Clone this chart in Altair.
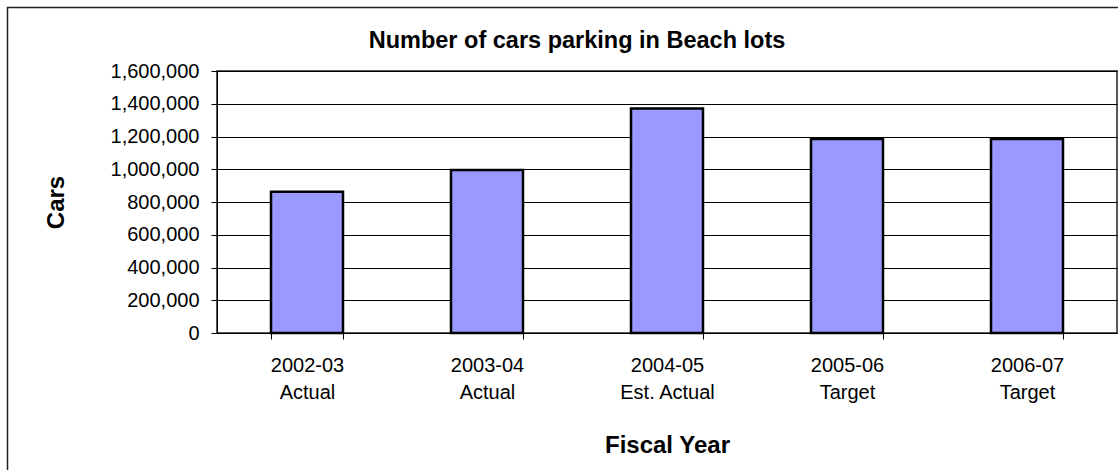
import altair as alt
import pandas as pd

years = ["2002-03", "2003-04", "2004-05", "2005-06", "2006-07"]
status = ["Actual", "Actual", "Est. Actual", "Target", "Target"]
cars = [863000, 995000, 1371000, 1184000, 1184000]
y_ticks = [0, 200000, 400000, 600000, 800000, 1000000, 1200000, 1400000, 1600000]

labels = [f"{y}|{s}" for y, s in zip(years, status)]
df = pd.DataFrame({"label": labels, "cars": cars})

FONT = "Liberation Sans"

bars = alt.Chart(df).mark_bar(
    fill="#9999FF", stroke="#000000", strokeWidth=2.5
).encode(
    x=alt.X(
        "label:N",
        sort=labels,
        scale=alt.Scale(paddingInner=0.6, paddingOuter=0.3),
        axis=alt.Axis(
            title="Fiscal Year",
            labelExpr="split(datum.label, '|')",
            labelAngle=0,
            labelFontSize=20,
            labelLineHeight=27,
            labelBaseline="top",
            labelPadding=16,
            tickBand="extent",
            tickSize=6,
            titleFontSize=24,
            titleFontWeight="bold",
            titleBaseline="alphabetic",
            titleY=119,
            grid=False,
        ),
    ),
    y=alt.Y(
        "cars:Q",
        scale=alt.Scale(domain=[0, 1600000], nice=False),
        axis=alt.Axis(
            title="Cars",
            values=y_ticks,
            format=",.0f",
            labelFontSize=20,
            labelPadding=12,
            tickSize=6,
            grid=True,
            gridColor="#000000",
            gridWidth=1,
            titleFontSize=24,
            titleFontWeight="bold",
            titleAngle=270,
            titleAlign="center",
            titleBaseline="alphabetic",
            titleX=-154,
            titleY=131,
        ),
    ),
)

frame = alt.Chart(pd.DataFrame({"a": [0]})).mark_rect(
    fill=None, stroke="#222222", strokeWidth=1.5
).encode(
    x=alt.value(-209.5), x2=alt.value(913),
    y=alt.value(-63.5), y2=alt.value(409),
)

chart = alt.layer(frame, bars).properties(
    width=900,
    height=262,
    title=alt.TitleParams(
        "Number of cars parking in Beach lots",
        fontSize=23.5,
        fontWeight="bold",
        font=FONT,
        color="#000000",
        anchor="middle",
        frame="group",
        dx=-90,
        dy=64.5,
        baseline="alphabetic",
        offset=0,
    ),
    padding={"left": 217, "top": 71, "right": 1, "bottom": 137},
    autosize=alt.AutoSizeParams(type="none"),
    background="#ffffff",
).configure_view(
    stroke="#222222", strokeWidth=1.5
).configure_axis(
    labelFont=FONT,
    titleFont=FONT,
    labelColor="#000000",
    titleColor="#000000",
    domainColor="#000000",
    tickColor="#000000",
    domainWidth=1,
    tickWidth=1,
)

chart.save("out.html", embed_options={"renderer": "svg", "actions": False})
